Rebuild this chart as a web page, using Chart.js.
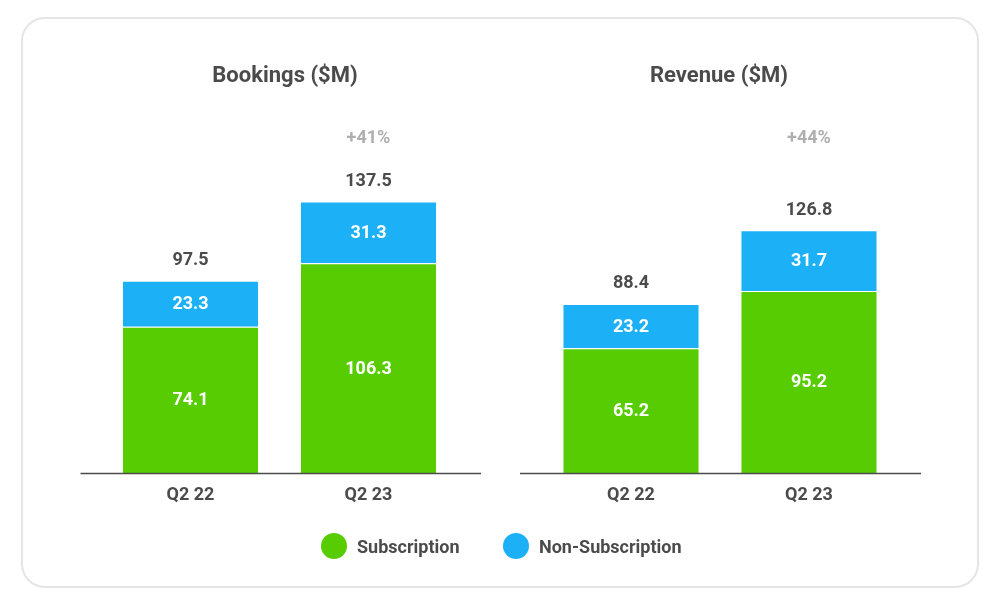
<!DOCTYPE html>
<html>
<head>
<meta charset="utf-8">
<script src="https://cdn.jsdelivr.net/npm/chart.js@4"></script>
<style>
  html, body { margin: 0; padding: 0; background: #fff; }
  body { width: 1000px; height: 605px; position: relative; overflow: hidden; font-family: Roboto, sans-serif; }
  .frame { position: absolute; left: 21px; top: 17px; width: 954px; height: 567px; border: 2px solid #e5e5e5; border-radius: 24px; box-sizing: content-box; }
  .cv { position: absolute; top: 0; }
  #c1 { left: 0; }
  #c2 { left: 500px; }
  .legend { position: absolute; top: 533px; height: 26px; display: flex; align-items: center; font: bold 18px Roboto, sans-serif; color: #4b4b4b; }
  .dot { width: 26px; height: 26px; border-radius: 50%; margin-right: 10px; }
</style>
</head>
<body>
<div class="frame"></div>
<canvas id="c1" class="cv" width="500" height="605"></canvas>
<canvas id="c2" class="cv" width="500" height="605"></canvas>
<div class="legend" style="left:321px;"><div class="dot" style="background:#58cc02"></div><span>Subscription</span></div>
<div class="legend" style="left:503px;"><div class="dot" style="background:#1cb0f6"></div><span>Non-Subscription</span></div>
<script>
// ---- data ----
const categories = ['Q2 22', 'Q2 23'];
const seriesNames = ['Subscription', 'Non-Subscription'];
const bookingsSubscription = [74.1, 106.3];
const bookingsNonSubscription = [23.3, 31.3];
const bookingsTotals = [97.5, 137.5];
const bookingsGrowth = '+41%';
const revenueSubscription = [65.2, 95.2];
const revenueNonSubscription = [23.2, 31.7];
const revenueTotals = [88.4, 126.8];
const revenueGrowth = '+44%';

const GREEN = '#58cc02', BLUE = '#1cb0f6', TEXT = '#4b4b4b', GREY = '#afafaf';
const FONT = 'Roboto';

const annotPlugin = {
  id: 'annot',
  afterDatasetsDraw(chart, args, opts) {
    const { ctx, chartArea } = chart;
    const xs = chart.scales.x, ys = chart.scales.y;
    ctx.save();
    // segment labels
    ctx.textAlign = 'center';
    ctx.textBaseline = 'middle';
    ctx.font = `bold 18px ${FONT}`;
    ctx.fillStyle = '#ffffff';
    chart.data.datasets.forEach((ds, di) => {
      const meta = chart.getDatasetMeta(di);
      meta.data.forEach((el, i) => {
        const p = el.getProps(['x', 'y', 'base'], true);
        ctx.fillText(ds.data[i].toFixed(1), p.x, (p.y + p.base) / 2 + 1);
      });
    });
    // baseline
    ctx.strokeStyle = TEXT;
    ctx.lineWidth = 1.5;
    ctx.beginPath();
    ctx.moveTo(chartArea.left - opts.extL, chartArea.bottom + 0.5);
    ctx.lineTo(chartArea.right + opts.extR, chartArea.bottom + 0.5);
    ctx.stroke();
    // totals
    ctx.fillStyle = TEXT;
    opts.totals.forEach((t, i) => {
      const stackTop = chart.data.datasets.reduce((s, ds) => s + ds.data[i], 0);
      ctx.fillText(t.toFixed(1), xs.getPixelForValue(i), ys.getPixelForValue(stackTop) - 20);
    });
    // growth
    ctx.fillStyle = GREY;
    ctx.fillText(opts.growth, xs.getPixelForValue(1), opts.growthY);
    // title
    ctx.fillStyle = TEXT;
    ctx.font = `bold 22px ${FONT}`;
    ctx.fillText(opts.title, (chartArea.left + chartArea.right) / 2 + opts.titleDx, opts.titleY);
    ctx.restore();
  }
};

function makeChart(id, title, sub, non, totals, growth, yMax, pad, titleDx, extL, extR) {
  return new Chart(document.getElementById(id), {
    type: 'bar',
    data: {
      labels: categories,
      datasets: [
        { label: seriesNames[0], data: sub, backgroundColor: GREEN, borderColor: '#ffffff', borderWidth: 1, barPercentage: 0.77, categoryPercentage: 1 },
        { label: seriesNames[1], data: non, backgroundColor: BLUE, borderColor: '#ffffff', borderWidth: 1, barPercentage: 0.77, categoryPercentage: 1 }
      ]
    },
    options: {
      responsive: false,
      animation: false,
      devicePixelRatio: 1,
      layout: { padding: pad },
      plugins: {
        legend: { display: false },
        title: { display: false },
        tooltip: { enabled: false },
        annot: { title, totals, growth, growthY: 138, titleY: 76, titleDx, extL, extR }
      },
      scales: {
        x: {
          stacked: true,
          grid: { display: false, drawTicks: false },
          border: { display: false },
          ticks: { color: TEXT, font: { family: FONT, size: 18, weight: 'bold' }, padding: 12 },
          afterFit(s) { s.height = 40; }
        },
        y: {
          stacked: true,
          display: false,
          min: 0,
          max: yMax
        }
      }
    },
    plugins: [annotPlugin]
  });
}

makeChart('c1', 'Bookings ($M)', bookingsSubscription, bookingsNonSubscription, bookingsTotals, bookingsGrowth, 189,
  { left: 101.5, right: 42.5, top: 100, bottom: 92 }, 5.5, 21, 23.5);
makeChart('c2', 'Revenue ($M)', revenueSubscription, revenueNonSubscription, revenueTotals, revenueGrowth, 195,
  { left: 42, right: 102, top: 100, bottom: 92 }, -1, 22, 23);
</script>
</body>
</html>
